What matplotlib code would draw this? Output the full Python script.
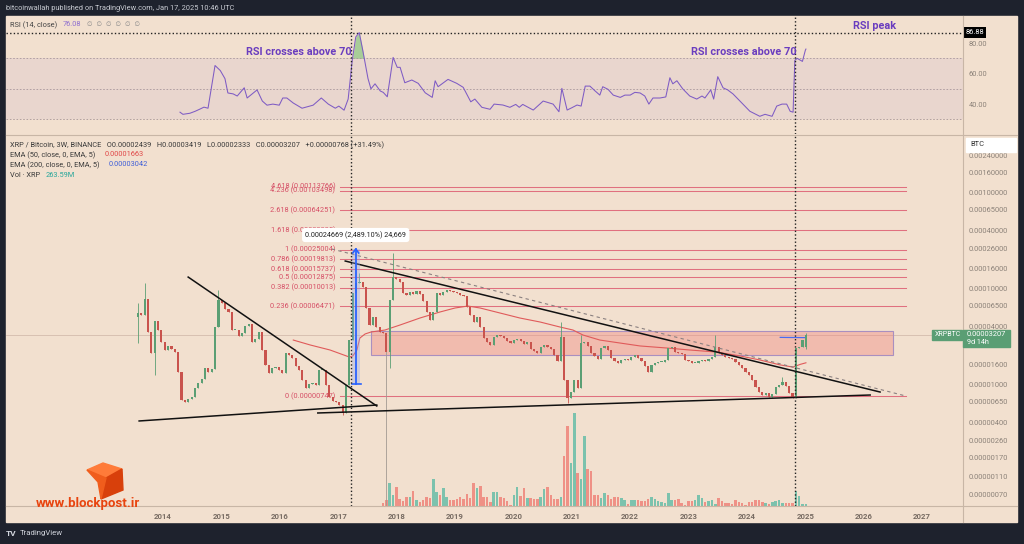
import numpy as np
import matplotlib
matplotlib.use("Agg")
import matplotlib.pyplot as plt
from matplotlib.patches import Rectangle, Polygon
from matplotlib.lines import Line2D
from matplotlib.ticker import NullLocator

plt.rcParams['font.family'] = ['Roboto', 'DejaVu Sans']

# XRP/BTC 3W candle closes, in satoshi (1e-8 BTC)
closes_2013_2017 = [5490, 5230, 7680, 3480, 2100, 4530, 3650, 2740, 2260, 2490,
                    2320, 2150, 1330, 681, 649, 698, 732, 908, 1020, 1130,
                    1470, 1330, 1430, 3920, 7500, 6980, 6040, 5620, 3650, 3650,
                    3160, 3400, 4020, 4220, 2740, 2940, 3480, 2260, 1580, 1300,
                    1470, 1500, 1400, 1300, 2100, 2010, 1870, 1540, 1400, 1100,
                    908, 1000, 1020, 976, 1400, 1400, 976, 732, 665, 649,
                    605, 499, 976]
closes_2017_2020 = [2870, 8870, 11300, 11500, 10200, 6190, 4120, 4990, 3920, 3480,
                    3400, 2150, 7500, 13000, 12400, 11500, 8870, 8460, 9090, 8660,
                    9310, 8660, 7320, 5620, 4640, 5620, 8870, 8460, 9090, 9530,
                    9310, 9090, 8870, 8460, 8250, 6340, 5230, 4420, 4990, 3920,
                    3010, 2740, 2550, 3090, 3240, 3160, 3010, 2810, 2670, 2870,
                    2940, 2810, 2610, 2740, 2320, 2210, 2100, 2430, 2550, 2430,
                    2320, 2010, 1740]
closes_nov_2020 = [3090]
closes_2020_2025 = [1100, 715, 825, 1100, 908, 2670, 2740, 2490, 2100, 1960,
                    1820, 2370, 2490, 2260, 1870, 1740, 1660, 1780, 1820, 1780,
                    1910, 2010, 1870, 1740, 1540, 1330, 1580, 1660, 1700, 1700,
                    1780, 2370, 2430, 2150, 2100, 2050, 1780, 1740, 1660, 1660,
                    1740, 1780, 1740, 1820, 1910, 2430, 2100, 2010, 1910, 1870,
                    1820, 1700, 1580, 1470, 1330, 1240, 1100, 931, 825, 768,
                    806, 732, 787, 931, 976, 1050, 953, 806, 715, 2370,
                    2430, 2870, 3207]
first_open = 4990
last_open = 2439
wick_high = {0: 6980, 2: 11300, 24: 9500, 66: 14300, 76: 23000, 126: 4420,
             132: 3240, 172: 3240, 192: 1180, 199: 3419}
wick_low = {0: 2670, 5: 1240, 61: 470, 74: 40, 75: 1470, 128: 640, 199: 2333}
grey_wick = 74

# volume, million XRP
vol_2017_2019 = [390, 780, 2990, 1430, 2470, 910, 650, 1170, 1170, 1950,
                 780, 520, 780, 1170, 1040, 3510, 1820, 1430, 2340, 1170,
                 780, 780, 910, 1170, 910, 1560, 1040, 2990, 2340, 2600,
                 1170, 1170, 520, 1820, 1820]
vol_2020_2025 = [1170, 1040, 650, 130, 1430, 2470, 1300, 2340, 1040, 1040,
                 910, 910, 1170, 2210, 2470, 1430, 910, 910, 1170, 6500,
                 10400, 5590, 12090, 4290, 3510, 9100, 4810, 4550, 1430, 1430,
                 1040, 1690, 1430, 910, 1170, 1170, 1040, 780, 260, 780,
                 780, 780, 650, 650, 910, 1170, 910, 650, 520, 390,
                 1690, 780, 780, 910, 390, 130, 650, 650, 780, 1430,
                 1040, 520, 650, 780, 260, 1040, 650, 390, 390, 260,
                 780, 520, 390, 130, 520, 520, 780, 780, 520, 390,
                 260, 520, 650, 780, 390, 390, 390, 390, 1950, 1300,
                 260, 264]

rsi_dates = [2014.29, 2014.34, 2014.46, 2014.55, 2014.63, 2014.70, 2014.77, 2014.89, 2014.98, 2015.06,
             2015.11, 2015.20, 2015.27, 2015.39, 2015.44, 2015.61, 2015.70, 2015.78, 2015.88, 2015.99,
             2016.05, 2016.12, 2016.23, 2016.38, 2016.57, 2016.71, 2016.83, 2016.95, 2017.01, 2017.10,
             2017.17, 2017.24, 2017.30, 2017.36, 2017.42, 2017.51, 2017.56, 2017.63, 2017.72, 2017.77,
             2017.84, 2017.94, 2018.01, 2018.06, 2018.14, 2018.26, 2018.37, 2018.49, 2018.61, 2018.66,
             2018.71, 2018.88, 2019.03, 2019.14, 2019.27, 2019.34, 2019.46, 2019.60, 2019.67, 2019.82,
             2019.94, 2020.04, 2020.10, 2020.16, 2020.34, 2020.51, 2020.68, 2020.78, 2020.83, 2020.92,
             2021.00, 2021.09, 2021.16, 2021.23, 2021.31, 2021.40, 2021.48, 2021.53, 2021.62, 2021.71,
             2021.83, 2021.91, 2022.00, 2022.08, 2022.17, 2022.25, 2022.32, 2022.39, 2022.51, 2022.61,
             2022.68, 2022.73, 2022.80, 2022.90, 2023.02, 2023.14, 2023.23, 2023.28, 2023.38, 2023.43,
             2023.50, 2023.59, 2023.67, 2023.76, 2023.88, 2024.05, 2024.22, 2024.31, 2024.43, 2024.51,
             2024.60, 2024.68, 2024.74, 2024.79, 2024.82, 2024.86, 2024.95, 2025.00, 2025.01]
rsi_vals = [34.7, 33.3, 34.0, 35.3, 36.7, 38.0, 37.3, 65.3, 62.0, 56.7,
            47.3, 46.7, 45.3, 50.7, 44.0, 49.3, 42.0, 39.3, 40.0, 39.3,
            44.0, 44.0, 40.7, 37.3, 39.3, 44.0, 40.0, 37.3, 38.7, 36.0,
            43.3, 68.7, 84.0, 86.88, 75.3, 56.7, 50.0, 53.3, 48.6, 47.7,
            44.8, 70.6, 64.1, 64.1, 54.0, 55.8, 53.6, 47.4, 44.4, 55.3,
            51.4, 56.2, 53.6, 51.0, 41.5, 43.3, 37.9, 36.6, 40.0, 39.4,
            37.9, 39.8, 37.9, 39.8, 36.1, 42.0, 40.0, 35.0, 50.3, 36.1,
            37.6, 39.4, 38.7, 51.8, 51.8, 48.6, 45.9, 51.4, 49.7, 45.9,
            44.4, 45.9, 45.9, 47.7, 47.3, 45.3, 40.0, 44.0, 44.0, 44.7,
            57.3, 53.3, 55.3, 50.0, 45.3, 43.3, 45.3, 44.0, 49.3, 43.3,
            58.0, 50.7, 49.3, 46.7, 42.0, 35.3, 32.0, 33.3, 32.0, 38.7,
            40.0, 40.0, 35.3, 34.7, 68.7, 70.0, 68.0, 75.3, 76.08]

ema50_dates = [2016.23, 2016.52, 2016.86, 2017.19, 2017.25, 2017.32, 2017.37, 2017.46, 2017.56, 2017.80,
               2018.06, 2018.40, 2018.74, 2019.00, 2019.22, 2019.43, 2019.77, 2020.11, 2020.46, 2020.80,
               2021.02, 2021.19, 2021.48, 2021.83, 2022.17, 2022.63, 2023.02, 2023.49, 2023.88, 2024.22,
               2024.57, 2024.79, 2024.91, 2025.01]
ema50_sat = [2870, 2550, 2260, 1910, 1960, 2260, 3010, 3320, 3480, 3650,
             4120, 4870, 5620, 6190, 6490, 6190, 5490, 4870, 4420, 3920,
             3650, 3240, 2870, 2670, 2490, 2370, 2260, 2150, 1960, 1780,
             1580, 1500, 1600, 1663]
ema200_dates = [2024.57, 2024.79, 2025.01]
ema200_sat = [3060, 3050, 3042]

fib_levels = ['4.618', '4.236', '2.618', '1.618', '1', '0.786', '0.618', '0.5', '0.382', '0.236', '0']
fib_prices = [0.00113766, 0.00103498, 0.00064251, 0.00039995, 0.00025004, 0.00019813,
              0.00015737, 0.00012875, 0.00010013, 0.00006471, 0.00000747]

# drawn trend lines: (year, price) pairs
trend_lines = [((2014.43, 1.30e-4), (2017.66, 5.9e-6)),
               ((2013.59, 4.12e-6), (2017.66, 6.04e-6)),
               ((2016.65, 4.99e-6), (2026.11, 7.68e-6)),
               ((2017.12, 1.91e-4), (2026.28, 8.25e-6))]
dashed_line = ((2016.89, 2.55e-4), (2026.72, 7.5e-6))

year_ticks = list(range(2014, 2028))
price_ticks = [0.0024, 0.0016, 0.001, 0.00065, 0.0004, 0.00026, 0.00016, 0.0001, 0.000065,
               0.00004, 0.000016, 0.00001, 0.0000065, 0.000004, 0.0000026, 0.0000017,
               0.0000011, 0.0000007]
rsi_ticks = [80, 60, 40]

# ---- styling ----
W, H = 1024, 544
BG = '#f2e0cf'
DARK = '#1e222d'
UP = '#5b9f74'
DOWN = '#c9534d'
FIB = '#e0707f'
PURPLE = '#6a3dbf'
XL = (2011.31, 2027.70)


def rect(x0, y0, x1, y1):
    return [x0 / W, 1 - y1 / H, (x1 - x0) / W, (y1 - y0) / H]


def F(x, y):
    return (x / W, 1 - y / H)


fig = plt.figure(figsize=(W / 100, H / 100), dpi=100, facecolor=DARK)
fig.add_artist(Rectangle(F(6, 522), 1011 / W, 506 / H, transform=fig.transFigure,
                         color=BG, zorder=-5))

vol_ax = fig.add_axes(rect(6, 135, 963, 506))
price_ax = fig.add_axes(rect(6, 135, 963, 506))
rsi_ax = fig.add_axes(rect(6, 17, 963, 134))
for a in (vol_ax, price_ax, rsi_ax):
    a.set_facecolor('none')
    for s in a.spines.values():
        s.set_visible(False)
    a.set_xlim(*XL)

# separators
for xs, ys in [((6, 1017), (134.5, 134.5)), ((6, 1017), (506, 506)), ((963, 963), (16, 522))]:
    fig.add_artist(Line2D([x / W for x in xs], [1 - y / H for y in ys], transform=fig.transFigure,
                          color='#c8b6a6', lw=0.8, zorder=2))

# ---- candles ----
closes = np.array(closes_2013_2017 + closes_2017_2020 + closes_nov_2020 + closes_2020_2025, float) / 1e8
n = len(closes)
dates = 2025.01 - (n - 1 - np.arange(n)) * 21 / 365.25
opens = np.r_[first_open / 1e8, closes[:-1]]
opens[-1] = last_open / 1e8
highs = np.maximum(opens, closes)
lows = np.minimum(opens, closes)
for i, v in wick_high.items():
    highs[i] = max(highs[i], v / 1e8)
for i, v in wick_low.items():
    lows[i] = min(lows[i], v / 1e8)
up = closes >= opens
cols = np.where(up, UP, DOWN)
wick_cols = cols.copy()
wick_cols[grey_wick] = '#a39a93'

price_ax.set_yscale('log')
price_ax.set_ylim(5.36e-7, 3.925e-3)
price_ax.vlines(dates, lows, highs, colors=wick_cols, lw=0.6, zorder=4)
bot = np.minimum(opens, closes)
top = np.maximum(np.maximum(opens, closes), bot * 1.02)
price_ax.bar(dates, top - bot, bottom=bot, width=0.037, color=cols, lw=0, zorder=5)

# volume
vol = np.array(vol_2017_2019 + vol_2020_2025, float)
vcols = np.where(up[-len(vol):], '#7cc2ad', '#ef9186')
vol_ax.bar(dates[-len(vol):], vol, width=0.042, color=vcols, lw=0)
vol_ax.set_ylim(0, 48230)
vol_ax.set_xticks([])
vol_ax.set_yticks([])

# EMAs
price_ax.plot(ema50_dates, np.array(ema50_sat) / 1e8, color='#e05a5a', lw=0.8, zorder=3)
price_ax.plot(ema200_dates, np.array(ema200_sat) / 1e8, color='#4a6cf0', lw=0.9, zorder=3)

# current price line
price_ax.axhline(closes[-1], color='#d3bcad', lw=0.6, zorder=1)

# zone
price_ax.add_patch(Rectangle((2017.56, 2.005e-5), 8.94, 3.565e-5 - 2.005e-5, facecolor='#f07f7a',
                             alpha=0.38, edgecolor='none', zorder=2))
price_ax.add_patch(Rectangle((2017.56, 2.005e-5), 8.94, 3.565e-5 - 2.005e-5, facecolor='none',
                             edgecolor='#a98fc0', lw=0.8, zorder=2))

# fib levels
for lvl, p in zip(fib_levels, fib_prices):
    price_ax.plot([2017.03, 2026.72], [p, p], color=FIB, lw=0.75, zorder=2)
    price_ax.text(2016.95, p, f'{lvl} ({p:.8f})', ha='right', va='center', fontsize=5.3,
                  color='#d64f66', zorder=6)

# trend lines
for (x0, p0), (x1, p1) in trend_lines:
    price_ax.plot([x0, x1], [p0, p1], color='#111111', lw=1.1, zorder=6)
(x0, p0), (x1, p1) = dashed_line
price_ax.plot([x0, x1], [p0, p1], color='#8a8080', lw=0.8, ls=(0, (3, 3)), zorder=6)

# measure tool
price_ax.add_patch(Rectangle((2017.23, 1.0e-5), 0.14, 2.548e-4 - 1.0e-5, facecolor='#8fa8f0',
                             alpha=0.35, lw=0, zorder=6))
price_ax.plot([2017.30, 2017.30], [1.0e-5, 2.548e-4], color='#2962ff', lw=1.3, zorder=7)
price_ax.plot([2017.25, 2017.30, 2017.35], [2.317e-4, 2.548e-4, 2.317e-4], color='#2962ff', lw=1.2, zorder=7)
price_ax.plot([2017.23, 2017.39], [1.0e-5, 1.0e-5], color='#2962ff', lw=1.2, zorder=7)
price_ax.text(2017.30, 3.565e-4, '0.00024669 (2,489.10%) 24,669', ha='center', va='center',
              fontsize=5.2, color='#222222', zorder=10,
              bbox=dict(boxstyle='round,pad=0.45', fc='white', ec='none'))

# vertical dotted markers
for d in (2017.22, 2024.83):
    price_ax.axvline(d, color='#222222', lw=1.0, ls=(0, (1, 1.6)), zorder=8)
    rsi_ax.axvline(d, color='#222222', lw=1.0, ls=(0, (1, 1.6)), zorder=8)

# price axis labels
price_ax.yaxis.tick_right()
price_ax.yaxis.set_minor_locator(NullLocator())
price_ax.set_yticks(price_ticks)
price_ax.set_yticklabels([f'{v:.8f}' for v in price_ticks])
price_ax.tick_params(axis='y', length=0, pad=4, labelsize=5.4, labelcolor='#8c8279')
price_ax.set_xticks(year_ticks)
price_ax.set_xticklabels([str(y) for y in year_ticks])
price_ax.tick_params(axis='x', length=0, pad=5, labelsize=5.6, labelcolor='#776b62')
for lb in price_ax.get_xticklabels():
    lb.set_fontweight('bold')

# ---- RSI pane ----
rsi_ax.set_ylim(20.4, 97.1)
rsi_ax.axhspan(30, 70, color='#7e57c2', alpha=0.07, lw=0)
for lv in (70, 50, 30):
    rsi_ax.axhline(lv, color='#a8979c', lw=0.6, ls=(0, (2, 2)))
rsi_ax.axhline(86.88, color='#222222', lw=1.0, ls=(0, (1, 1.6)))
rd = np.array(rsi_dates)
rv = np.array(rsi_vals)
rsi_ax.fill_between(rd, 70, rv, where=(rv > 70) & (rd < 2017.6), interpolate=True,
                    color='#6cbf6c', alpha=0.55, lw=0)
rsi_ax.plot(rd, rv, color='#7e5bc4', lw=0.75)
rsi_ax.yaxis.tick_right()
rsi_ax.set_yticks(rsi_ticks)
rsi_ax.set_yticklabels([f'{v:.2f}' for v in rsi_ticks])
rsi_ax.tick_params(axis='y', length=0, pad=4, labelsize=5.4, labelcolor='#8c8279')
rsi_ax.set_xticks([])
rsi_ax.text(1.003, 86.88, '86.88', transform=rsi_ax.get_yaxis_transform(), ha='left', va='center',
            fontsize=5.4, color='white', bbox=dict(boxstyle='square,pad=0.25', fc='black', ec='none'))
for xt, txt, yv in [(2015.42, 'RSI crosses above 70', 74.0), (2023.04, 'RSI crosses above 70', 74.0),
                    (2025.82, 'RSI peak', 91.2)]:
    rsi_ax.text(xt, yv, txt, ha='left', va='center', fontsize=7.8, fontweight='bold', color=PURPLE,
                zorder=9)

# ---- header / legends ----
fig.text(*F(6, 8.5), 'bitcoinwallah published on TradingView.com, Jan 17, 2025 10:46 UTC',
         fontsize=5.3, color='#c9ccd3', va='center')
fig.text(*F(10, 25), 'RSI (14, close)', fontsize=5.3, color='#444444', va='center')
fig.text(*F(63, 25), '76.08', fontsize=5.3, color='#8e6fd0', va='center')
fig.text(*F(87, 25), '\u2205  \u2205  \u2205  \u2205  \u2205  \u2205', fontsize=4.6, color='#8a8a8a',
         va='center', family=['DejaVu Sans'])
fig.text(*F(10, 145), 'XRP / Bitcoin, 3W, BINANCE   O0.00002439   H0.00003419   L0.00002333   '
         'C0.00003207   +0.00000768 (+31.49%)', fontsize=5.3, color='#3a3a3a', va='center')
fig.text(*F(10, 155), 'EMA (50, close, 0, EMA, 5)', fontsize=5.3, color='#3a3a3a', va='center')
fig.text(*F(105, 155), '0.00001663', fontsize=5.3, color='#e04848', va='center')
fig.text(*F(10, 165), 'EMA (200, close, 0, EMA, 5)', fontsize=5.3, color='#3a3a3a', va='center')
fig.text(*F(109, 165), '0.00003042', fontsize=5.3, color='#3f5fd8', va='center')
fig.text(*F(10, 175), 'Vol \u00b7 XRP', fontsize=5.3, color='#3a3a3a', va='center')
fig.text(*F(46, 175), '263.59M', fontsize=5.3, color='#26a69a', va='center')

# right-side boxes
fig.add_artist(Rectangle(F(966, 152), 50 / W, 14 / H, transform=fig.transFigure, color='white', zorder=4))
fig.text(*F(970, 145), 'BTC', fontsize=5.4, color='#333333', va='center', zorder=5)
fig.add_artist(Rectangle(F(963, 347), 47 / W, 17 / H, transform=fig.transFigure, color='#5a9e74', zorder=4))
fig.text(*F(967, 335), '0.00003207', fontsize=5.4, color='white', va='center', zorder=5)
fig.text(*F(967, 342.5), '9d 14h', fontsize=5.2, color='white', va='center', zorder=5)
fig.add_artist(Rectangle(F(932, 340), 30 / W, 10 / H, transform=fig.transFigure, color='#5a9e74', zorder=4))
fig.text(*F(935, 335), 'XRPBTC', fontsize=5.0, color='white', va='center', zorder=5)

# watermark logo
for pts, c in [([(87, 470), (103, 463), (122, 469), (106, 478)], '#ff7b39'),
               ([(106, 478), (122, 469), (123, 490), (101, 499)], '#d8400b'),
               ([(87, 470), (106, 478), (101, 499), (98, 482)], '#f05d1c')]:
    fig.add_artist(Polygon([F(x, y) for x, y in pts], closed=True, transform=fig.transFigure,
                           color=c, zorder=6))
fig.text(*F(36, 503), 'www.blockpost.ir', fontsize=9.5, fontweight='bold', color='#e8440f',
         va='center', zorder=6)

# footer
fig.text(*F(6, 533), 'TV', fontsize=6, fontweight='bold', color='#d1d4dc', va='center')
fig.text(*F(20, 533), 'TradingView', fontsize=5.6, color='#d1d4dc', va='center')

fig.savefig('out.png', dpi=100, facecolor=DARK)
